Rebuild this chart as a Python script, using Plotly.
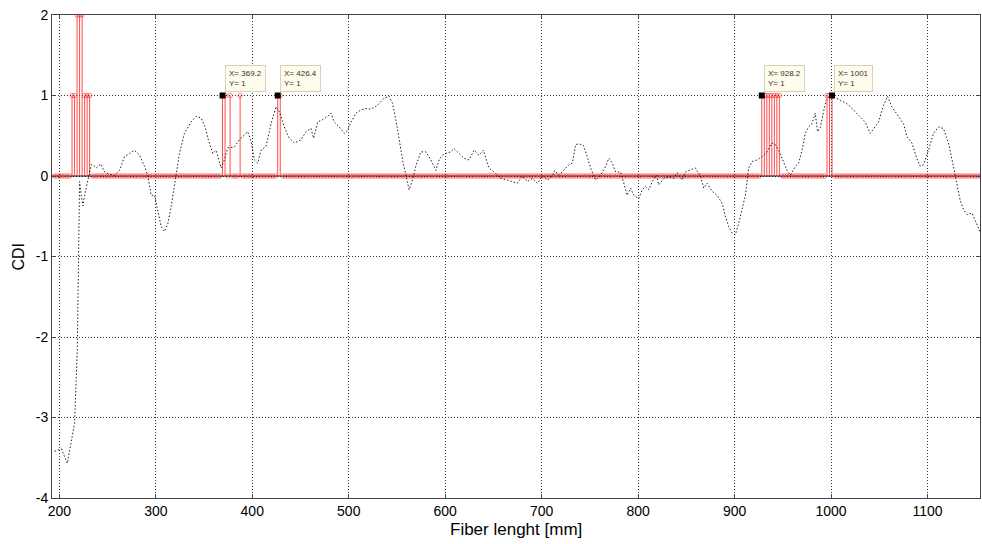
import numpy as np
import plotly.graph_objects as go

# ---- data ----
curve_x = [195.1,202.1,208.3,214.2,215.8,218.6,219.4,220.4,221.0,222.8,224.5,226.2,229.7,233.1,234.9,238.3,242.8,246.9,252.1,257.2,262.4,267.6,272.8,277.9,283.1,288.3,291.8,295.2,298.7,302.2,305.6,309.0,312.5,315.9,321.1,324.5,329.7,336.6,341.8,347.0,351.1,354.5,359.1,362.5,367.7,371.1,374.6,381.5,386.6,391.8,395.3,398.8,402.2,405.7,409.1,414.3,419.5,424.6,428.1,433.2,438.4,443.6,450.5,455.7,460.9,463.6,467.8,473.0,478.2,481.6,485.0,490.2,495.3,498.9,502.3,507.5,512.6,517.8,523.0,529.9,536.8,541.9,545.4,548.9,552.3,555.8,559.2,562.6,566.1,569.5,574.7,579.9,585.1,590.3,593.7,597.2,600.6,605.8,609.2,614.4,619.6,624.7,629.9,635.1,639.6,643.1,645.4,652.4,657.6,664.5,669.7,674.8,680.0,685.2,690.4,695.5,700.7,705.9,711.1,713.5,717.9,723.1,728.3,731.8,735.2,738.6,743.2,747.3,750.7,755.9,761.1,766.3,769.7,773.2,776.6,781.8,785.2,788.7,792.1,795.5,800.7,804.2,807.6,811.1,814.6,819.0,821.4,826.6,831.8,836.9,840.5,845.6,849.1,854.2,859.4,864.6,868.0,871.5,876.7,881.9,887.1,890.5,893.9,897.5,900.8,904.2,907.7,911.2,914.6,918.1,923.3,928.4,933.6,938.8,942.2,945.7,949.2,954.3,957.8,963.0,966.4,969.9,973.3,976.7,980.2,983.6,986.0,988.8,992.2,995.0,999.2,1002.6,1009.5,1016.5,1023.3,1030.2,1035.4,1040.6,1044.0,1049.2,1054.4,1058.5,1063.0,1069.9,1075.1,1078.6,1083.8,1088.9,1092.4,1095.8,1101.0,1106.2,1111.4,1116.5,1121.7,1126.9,1129.7,1133.8,1137.3,1141.4,1146.0,1151.2,1154.4]
curve_y = [-3.42,-3.39,-3.57,-3.19,-3.07,-2.16,-1.58,-1.0,-0.07,-0.25,-0.37,-0.24,-0.05,0.14,0.14,0.10,0.15,0.05,0.02,0.01,0.07,0.24,0.28,0.32,0.26,0.12,0.0,-0.24,-0.24,-0.46,-0.63,-0.69,-0.59,-0.38,0.0,0.28,0.53,0.67,0.74,0.72,0.61,0.45,0.28,0.32,0.10,0.20,0.35,0.36,0.45,0.51,0.55,0.43,0.20,0.16,0.32,0.37,0.65,0.86,0.80,0.61,0.47,0.41,0.45,0.55,0.59,0.47,0.67,0.70,0.74,0.78,0.67,0.61,0.53,0.57,0.67,0.78,0.82,0.84,0.83,0.88,0.97,0.99,0.90,0.70,0.45,0.20,0.01,-0.17,-0.05,0.12,0.30,0.30,0.20,0.07,0.20,0.26,0.28,0.30,0.34,0.28,0.22,0.20,0.32,0.26,0.32,0.18,0.10,0.03,-0.03,-0.05,-0.07,-0.09,0.0,-0.07,-0.03,-0.09,0.0,-0.05,0.0,0.07,0.01,0.07,0.14,0.16,0.39,0.40,0.38,0.24,0.10,-0.05,0.01,0.12,0.22,0.16,0.05,0.05,-0.09,-0.24,-0.15,-0.24,-0.28,-0.17,-0.13,-0.17,-0.07,0.01,-0.11,-0.03,-0.01,-0.03,0.04,-0.05,0.05,0.07,0.10,0.0,-0.15,-0.09,-0.19,-0.24,-0.34,-0.50,-0.63,-0.71,-0.73,-0.59,-0.42,-0.24,0.10,0.18,0.20,0.24,0.30,0.41,0.39,0.32,0.22,0.07,0.01,0.12,0.16,0.32,0.53,0.61,0.65,0.78,0.55,0.60,0.80,0.94,1.0,0.99,0.94,0.90,0.82,0.74,0.67,0.53,0.59,0.67,0.88,0.99,0.86,0.74,0.65,0.49,0.41,0.22,0.12,0.14,0.32,0.53,0.61,0.59,0.41,0.12,-0.05,-0.30,-0.42,-0.48,-0.46,-0.59,-0.69]

# stem samples every 2.6 mm (sample index k -> x = 2.6*k)
sample_step = 2.6
sample_k = np.arange(75, 445)
# nonzero stems (sample index, value)
hit_k = [82, 83, 84, 85, 86, 87, 88, 89, 142, 143, 145, 149, 164, 165,
         357, 358, 359, 360, 361, 362, 363, 364, 383, 384, 385]
hit_v = [1, 1, 2, 2, 2, 1, 1, 1, 1, 1, 1, 1, 1, 1,
         1, 1, 1, 1, 1, 1, 1, 1, 1, 1, 1]

tip_x = [369.2, 426.4, 928.2, 1001]
tip_y = [1, 1, 1, 1]

x_ticks = [200, 300, 400, 500, 600, 700, 800, 900, 1000, 1100]
y_ticks = [-4, -3, -2, -1, 0, 1, 2]
y_tick_text = ["-4", "-3", "-2", "-1", "0", "1", "2"]

# ---- build stems ----
vals = {k: v for k, v in zip(hit_k, hit_v)}
stem_x = sample_k * sample_step
stem_y = np.array([vals.get(int(k), 0) for k in sample_k], dtype=float)

seg_x, seg_y = [], []
for xx, yy in zip(stem_x, stem_y):
    if yy != 0:
        seg_x += [xx, xx, None]
        seg_y += [0, yy, None]

FONT = "Liberation Sans, Arial"
fig = go.Figure()

# baseline
fig.add_trace(go.Scatter(x=[stem_x[0] - sample_step, stem_x[-1]], y=[0, 0], mode="lines",
                         line=dict(color="black", width=1), hoverinfo="skip", showlegend=False))
# stems
fig.add_trace(go.Scatter(x=seg_x, y=seg_y, mode="lines",
                         line=dict(color="rgba(255,30,30,0.8)", width=1),
                         hoverinfo="skip", showlegend=False))
# stem markers
fig.add_trace(go.Scatter(x=stem_x, y=stem_y, mode="markers",
                         marker=dict(symbol="circle-open", size=4.5, color="rgba(255,40,40,0.55)",
                                     line=dict(width=1)),
                         showlegend=False))
# CDI curve
fig.add_trace(go.Scatter(x=curve_x, y=curve_y, mode="lines",
                         line=dict(color="rgba(20,20,20,0.95)", width=1, dash="1.5px,2px"),
                         showlegend=False))
# data tips
fig.add_trace(go.Scatter(x=tip_x, y=tip_y, mode="markers",
                         marker=dict(symbol="square", size=6, color="black"),
                         showlegend=False))
for tx, ty in zip(tip_x, tip_y):
    fig.add_annotation(x=tx, y=ty, text=f"X= {tx:g}<br>Y= {ty:g}", showarrow=False,
                       xanchor="left", yanchor="bottom", xshift=2, yshift=4, align="left",
                       font=dict(family=FONT, size=8, color="#333"),
                       bgcolor="rgb(255,252,235)", bordercolor="rgb(215,210,190)",
                       borderwidth=1, borderpad=3)

# axis titles placed as paper annotations
fig.add_annotation(text="Fiber lenght [mm]", xref="paper", yref="paper", x=0.5, y=-0.066,
                   xanchor="center", yanchor="middle", showarrow=False,
                   font=dict(family=FONT, size=17, color="black"))
fig.add_annotation(text="CDI", xref="paper", yref="paper", x=-0.0366, y=0.5, textangle=-90,
                   xanchor="center", yanchor="middle", showarrow=False,
                   font=dict(family=FONT, size=16, color="black"))

axis_common = dict(showline=True, linecolor="rgb(70,70,70)", linewidth=1, mirror="ticks",
                   ticks="inside", ticklen=4, tickcolor="rgb(70,70,70)",
                   showgrid=True, gridcolor="rgba(0,0,0,0.8)", griddash="1px,2px", gridwidth=1,
                   zeroline=False, automargin=False,
                   tickfont=dict(family=FONT, size=14, color="black"))

fig.update_xaxes(range=[192.4, 1154.4], tickvals=x_ticks, **axis_common)
fig.update_yaxes(range=[-4, 2], tickvals=y_ticks, ticktext=y_tick_text, **axis_common)

fig.update_layout(width=982, height=544, margin=dict(l=52, r=2, t=15, b=46),
                  plot_bgcolor="white", paper_bgcolor="white")

fig.write_html("out.html", config={"displayModeBar": False},
               post_script="document.body.style.margin='0';document.body.style.overflow='hidden';")
